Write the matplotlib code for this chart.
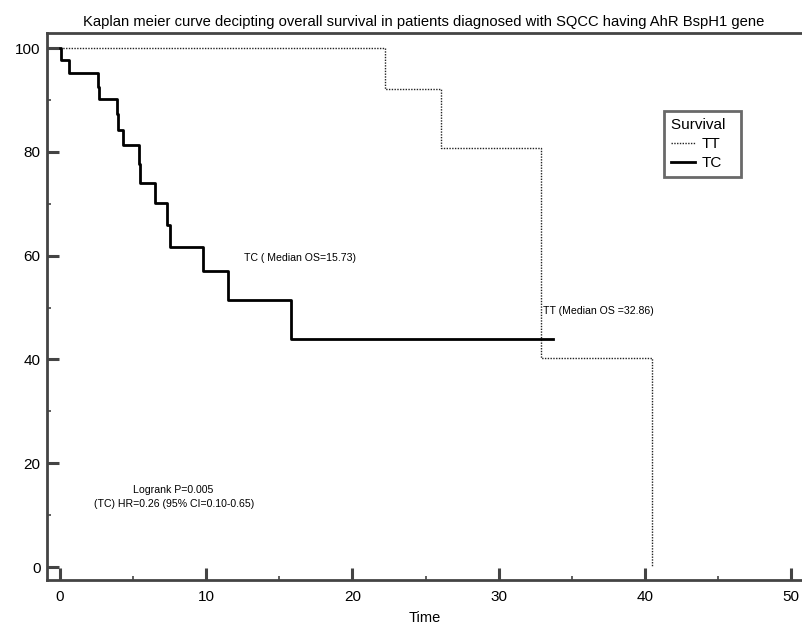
import matplotlib
matplotlib.use("Agg")
import matplotlib.pyplot as plt
from matplotlib.ticker import MultipleLocator
from matplotlib.lines import Line2D

plt.rcParams['font.family'] = ['Liberation Sans', 'DejaVu Sans']

# survival curves (time, percent surviving)
tt_time = [0, 22.2, 26.04, 32.92, 40.5]
tt_surv = [100, 92.2, 80.7, 40.3, 0]

tc_time = [0, 0.05, 0.6, 2.6, 2.7, 3.9, 4.0, 4.3, 5.4, 5.45, 6.5, 7.3, 7.55, 9.76, 11.5, 15.8, 33.7]
tc_surv = [100, 97.7, 95.2, 92.5, 90.2, 87.3, 84.3, 81.3, 77.6, 74.0, 70.1, 66.0, 61.7, 57.1, 51.4, 43.9, 43.9]

title = "Kaplan meier curve decipting overall survival in patients diagnosed with SQCC having AhR BspH1 gene"
spine_col = '#444444'

fig = plt.figure(figsize=(8.03, 6.26), dpi=100)
ax = fig.add_axes([47 / 803, 1 - 580 / 626, 1 - 47 / 803, (580 - 33) / 626])

ax.step(tt_time, tt_surv, where='post', color='#222222', lw=1.0, linestyle=(0, (1, 1)))
ax.step(tc_time, tc_surv, where='post', color='black', lw=2.0)

ax.set_xlim(-0.89, 50.82)
ax.set_ylim(-2.5, 102.9)

ax.xaxis.set_major_locator(MultipleLocator(10))
ax.xaxis.set_minor_locator(MultipleLocator(5))
ax.yaxis.set_major_locator(MultipleLocator(20))
ax.yaxis.set_minor_locator(MultipleLocator(10))
ax.tick_params(which='major', direction='in', length=8.5, width=2.2, color=spine_col,
               labelsize=11)
ax.tick_params(which='minor', direction='in', length=3, width=1.2, color=spine_col)
ax.tick_params(axis='x', pad=7)
ax.tick_params(axis='y', pad=4.5)

for s in ['left', 'bottom', 'top']:
    ax.spines[s].set_linewidth(2.0)
    ax.spines[s].set_color(spine_col)
ax.spines['right'].set_visible(False)

ax.set_xlabel('Time', fontsize=10.5, labelpad=5.5)
fig.text(424 / 803, 1 - 26 / 626, title, ha='center', va='baseline', fontsize=10.6)

ax.text(16.4, 59.6, 'TC ( Median OS=15.73)', fontsize=7.6, ha='center', va='center')
ax.text(33.05, 49.4, 'TT (Median OS =32.86)', fontsize=7.6, ha='left', va='center')
ax.text(7.75, 14.9, 'Logrank P=0.005', fontsize=7.6, ha='center', va='center')
ax.text(7.8, 12.2, '(TC) HR=0.26 (95% CI=0.10-0.65)', fontsize=7.6, ha='center', va='center')

handles = [Line2D([], [], color='#222222', lw=1.0, linestyle=(0, (1, 1))),
           Line2D([], [], color='black', lw=2.0)]
leg = ax.legend(handles, ['TT', 'TC'], title='Survival  ', loc='upper left',
                bbox_to_anchor=(664 / 803, 1 - 111 / 626), bbox_transform=fig.transFigure,
                fontsize=11, title_fontsize=11, frameon=True, fancybox=False,
                handlelength=1.6, handletextpad=0.4, borderpad=0.45, labelspacing=0.33,
                borderaxespad=0)
leg._legend_box.align = 'left'
leg.get_frame().set_edgecolor(spine_col)
leg.get_frame().set_linewidth(2.0)

fig.savefig('out.png', dpi=100)
